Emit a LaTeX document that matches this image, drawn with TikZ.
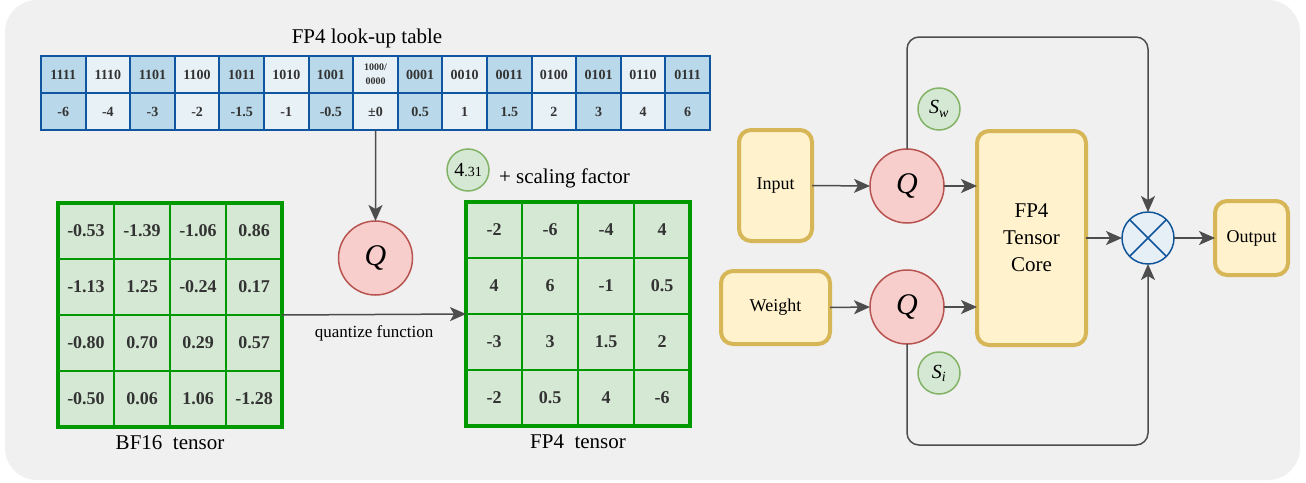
\documentclass[tikz,border=0pt]{standalone}
\usepackage{fontspec}
\setmainfont{Liberation Serif}
\usetikzlibrary{arrows.meta,positioning}

\definecolor{bgcol}{HTML}{F0F0F0}
\definecolor{lutdark}{HTML}{B9D8E9}
\definecolor{lutlight}{HTML}{E8F1F6}
\definecolor{lutline}{HTML}{0F55A0}
\definecolor{gridfill}{HTML}{D5E8D4}
\definecolor{gridline}{HTML}{009900}
\definecolor{qfill}{HTML}{F8CECC}
\definecolor{qline}{HTML}{B85450}
\definecolor{sline}{HTML}{82B366}
\definecolor{boxfill}{HTML}{FFF2CC}
\definecolor{boxline}{HTML}{D6B656}
\definecolor{multfill}{HTML}{E6EFF6}
\definecolor{multline}{HTML}{10559A}
\definecolor{arrowcol}{HTML}{4D4D4D}
\definecolor{cellgray}{HTML}{333333}

\newcommand{\fsz}[1]{\fontsize{#1}{#1}\selectfont}
\newcommand{\zerocode}{\fontsize{10}{11}\selectfont 1000/\\\fontsize{10}{11}\selectfont 0000}

\begin{document}
\begin{tikzpicture}[x=1pt,y=-1pt,inner sep=0pt,outer sep=0pt,
lutcell/.style={draw=lutline,line width=2pt,rectangle,minimum width=44.6pt,minimum height=37pt,align=center,font={\fsz{14}\bfseries},text=cellgray},
gridcell/.style={draw=gridline,fill=gridfill,line width=2pt,rectangle,minimum size=56pt,font={\fsz{18}\bfseries},text=cellgray},
gridframe/.style={draw=gridline,line width=4pt,rectangle,minimum size=224pt},
qnode/.style={draw=qline,fill=qfill,line width=1.5pt,circle,minimum size=74pt,font={\fsz{30}\itshape}},
snode/.style={draw=sline,fill=gridfill,line width=1.5pt,circle,minimum size=42pt,font={\fsz{20}\itshape}},
databox/.style={draw=boxline,fill=boxfill,line width=4pt,rectangle,rounded corners=12pt,font={\fsz{18}}},
flow/.style={draw=arrowcol,line width=1.5pt,-{Stealth[length=16pt,width=14pt,inset=4pt]}}]

\useasboundingbox (0,0) rectangle (1306,482);
\fill[bgcol,rounded corners=32pt] (5,0) rectangle (1300,480);

% look-up table
\node[font={\fsz{21}}] (luttitle) at (367,38) {FP4 look-up table};
\foreach \b/\v [count=\i from 0] in {1111/-6,1110/-4,1101/-3,1100/-2,1011/-1.5,1010/-1,1001/-0.5,\zerocode/±0,0001/0.5,0010/1,0011/1.5,0100/2,0101/3,0110/4,0111/6} {
  \ifodd\i \def\shade{lutlight}\else\def\shade{lutdark}\fi
  \node[lutcell,fill=\shade] (lutb\i) at (63.3+44.6*\i,74.5) {\b};
  \node[lutcell,fill=\shade] (lutv\i) at (63.3+44.6*\i,111.5) {\v};
}
\node[qnode] (qlut) at (375.5,258) {Q};
\draw[flow] (lutv7.south) -- (qlut.north);

% BF16 tensor
\foreach \row [count=\r from 0] in {{-0.53,-1.39,-1.06,0.86},{-1.13,1.25,-0.24,0.17},{-0.80,0.70,0.29,0.57},{-0.50,0.06,1.06,-1.28}} {
  \foreach \val [count=\c from 0] in \row {
    \node[gridcell] (bf\r\c) at (86+56*\c,231+56*\r) {\val};
  }
}
\node[gridframe] (bf) at (170,315) {};
\node[font={\fsz{21}},below=9pt of bf] (bflabel) {BF16\ \ tensor};

% FP4 tensor
\foreach \row [count=\r from 0] in {{-2,-6,-4,4},{4,6,-1,0.5},{-3,3,1.5,2},{-2,0.5,4,-6}} {
  \foreach \val [count=\c from 0] in \row {
    \node[gridcell] (fp\r\c) at (494+56*\c,230+56*\r) {\val};
  }
}
\node[gridframe] (fp) at (578,314) {};
\node[font={\fsz{21}},below=9pt of fp] (fplabel) {FP4\ \ tensor};

\draw[flow] (bf.east) -- (fp.west) node[midway,below=11pt,font={\fsz{17}}] (quantlabel) {quantize function};

\node[snode,font={\fsz{20}}] (scale) at (468,170) {4{\fsz{14}.31}};
\node[font={\fsz{21}},anchor=base west] (scaletext) at (499,183) {+ scaling factor};

% tensor core path
\node[databox,minimum width=73pt,minimum height=111pt] (input) at (775.5,185.5) {Input};
\node[databox,minimum width=109pt,minimum height=73pt] (weight) at (775.5,307.5) {Weight};
\node[qnode] (qa) at (907,186) {Q};
\node[qnode] (qb) at (907,307) {Q};
\node[snode] (sw) at (939,109) {S\textsubscript{w}};
\node[snode] (si) at (939,373) {S\textsubscript{i}};
\node[databox,minimum width=109pt,minimum height=214pt,align=center,font={\fontsize{21}{27}\selectfont}] (core) at (1031.5,238) {FP4\\Tensor\\Core};
\node[circle,draw=multline,fill=multfill,line width=1.5pt,minimum size=52pt] (mult) at (1148,238) {};
\draw[multline,line width=1.5pt] (mult.north west) -- (mult.south east) (mult.north east) -- (mult.south west);
\node[databox,minimum width=73pt,minimum height=74pt] (output) at (1251.5,238) {Output};

\coordinate (toprail) at (0,37);
\coordinate (botrail) at (0,445);
\draw[flow] (input.east) -- (qa.west);
\draw[flow] (weight.east) -- (qb.west);
\draw[flow] (qa.east) -- (qa.east -| core.west);
\draw[flow] (qb.east) -- (qb.east -| core.west);
\draw[flow] (core.east) -- (mult.west);
\draw[flow] (mult.east) -- (output.west);
\draw[flow,rounded corners=12pt] (qa.north) -- (qa.north |- toprail) -| (mult.north);
\draw[flow,rounded corners=12pt] (qb.south) -- (qb.south |- botrail) -| (mult.south);
\end{tikzpicture}
\end{document}
